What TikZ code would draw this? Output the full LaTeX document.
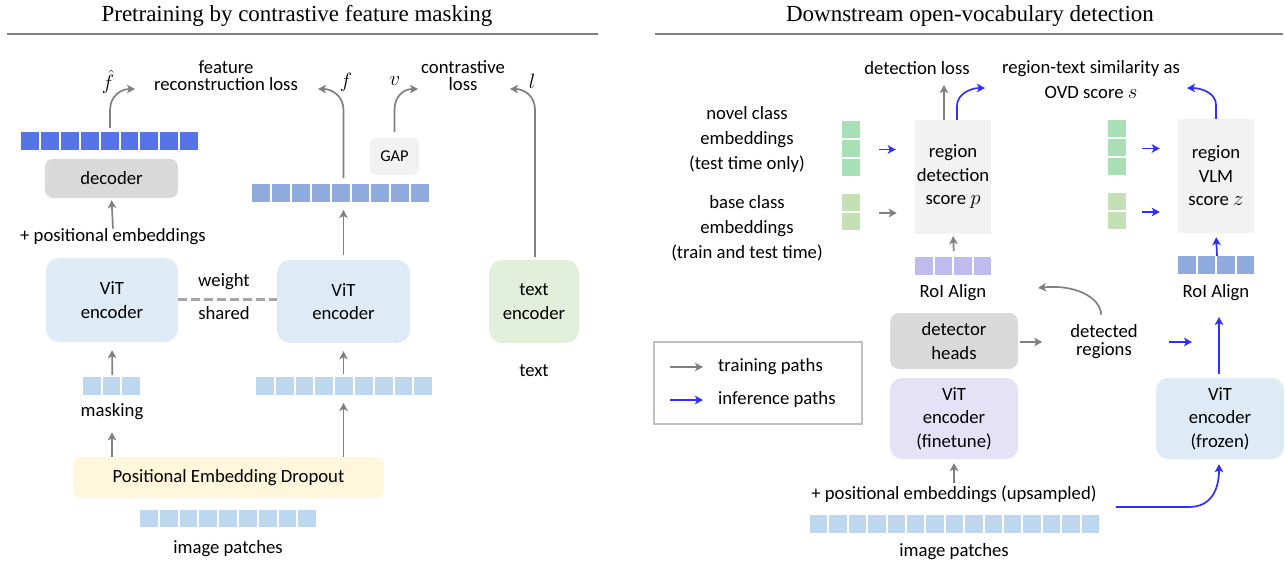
\documentclass[tikz,border=0pt]{standalone}
\usepackage{fontspec}
\setmainfont{Carlito}
\newfontfamily\titlefont{Liberation Serif}
\usetikzlibrary{arrows.meta,calc}

\definecolor{garr}{HTML}{808080}
\definecolor{barr}{HTML}{2F2FFF}
\definecolor{pdark}{HTML}{5574E6}
\definecolor{pmid}{HTML}{8FAADC}
\definecolor{plight}{HTML}{BDD7EE}
\definecolor{vitblue}{HTML}{DEEAF6}
\definecolor{txtgreen}{HTML}{E2EFDA}
\definecolor{pedyel}{HTML}{FFF7DC}
\definecolor{decgray}{HTML}{D9D9D9}
\definecolor{boxgray}{HTML}{F2F2F2}
\definecolor{ftlav}{HTML}{E5E1F7}
\definecolor{plav}{HTML}{C0BBEF}
\definecolor{gnovel}{HTML}{A9DFB5}
\definecolor{gbase}{HTML}{C5E0B4}
\definecolor{dashgray}{HTML}{A6A6A6}
\definecolor{rulegray}{HTML}{808080}
\definecolor{leggray}{HTML}{BFBFBF}

\newcommand{\fsz}{\fontsize{18.7}{23.5}\selectfont}
\newcommand{\fst}{\fontsize{18.7}{17}\selectfont}
\newcommand{\fsw}{\fontsize{18.7}{25}\selectfont}
\newcommand{\mv}[1]{{\fontsize{20.74}{23.5}\selectfont$#1$}}

% horizontal strip of patches: name, x-left, y-top, n, pitch, height, colour
\newcommand{\hstrip}[7]{%
  \node[inner sep=0pt, outer sep=0pt, minimum width={#4*#5pt}, minimum height=#6pt, anchor=north west] (#1) at (#2,#3) {};
  \foreach \k in {1,...,#4}{\fill[#7] ({#2+(\k-1)*#5},#3) rectangle ({#2+\k*#5-2},{#3+#6});}
}
% vertical strip of patches: name, x-left, y-top, n, pitch, width, colour
\newcommand{\vstrip}[7]{%
  \node[inner sep=0pt, outer sep=0pt, minimum width=#6pt, minimum height={#4*#5pt}, anchor=north west] (#1) at (#2,#3) {};
  \foreach \k in {1,...,#4}{\fill[#7] (#2,{#3+(\k-1)*#5}) rectangle ({#2+#6},{#3+\k*#5-2});}
}

\tikzset{
  lab/.style={inner sep=0pt, align=center, font=\fsz},
  blk/.style={inner sep=0pt, align=center, font=\fsz, rounded corners=13pt},
  garrow/.style={draw=garr, line width=1.7pt, -{Stealth[length=8pt,width=8.5pt,inset=2pt]}},
  barrow/.style={draw=barr, line width=1.7pt, -{Stealth[length=8pt,width=8.5pt,inset=2pt]}},
}

\begin{document}
\begin{tikzpicture}[x=1pt,y=-1pt]
\useasboundingbox (0,0) rectangle (1285,563);

% ---------- titles ----------
\node[lab, font=\titlefont\fontsize{23}{28}\selectfont, anchor=base] (titleL) at (297,21) {Pretraining by contrastive feature masking};
\node[lab, font=\titlefont\fontsize{23}{28}\selectfont, anchor=base] (titleR) at (970,21) {Downstream open-vocabulary detection};
\draw[rulegray, line width=1.3pt] (7,34) -- (598,34);
\draw[rulegray, line width=1.3pt] (655,34) -- (1283,34);

% ---------- left panel ----------
\hstrip{decout}{21}{132}{9}{19.9}{18}{pdark}
\hstrip{out2}{252}{184}{9}{19.9}{18}{pmid}
\hstrip{mask}{83}{377}{3}{19.5}{18}{plight}
\hstrip{strip2}{256}{377}{9}{19.8}{18}{plight}
\hstrip{imgL}{140}{510}{9}{19.8}{17}{plight}

\node[blk, fill=decgray, minimum width=133pt, minimum height=39pt, rounded corners=8pt] (dec) at (111.5,178.5) {decoder};
\node[blk, fill=boxgray, minimum width=49pt, minimum height=37pt, rounded corners=6pt, font=\fontsize{16.5}{20}\selectfont] (gap) at (394.5,156.5) {GAP};
\node[blk, fill=vitblue, minimum width=132pt, minimum height=84pt] (enc1) at (112,300) {ViT\\encoder};
\node[blk, fill=vitblue, minimum width=133pt, minimum height=83pt] (enc2) at (343.5,301.5) {ViT\\encoder};
\node[blk, fill=txtgreen, minimum width=90pt, minimum height=83pt] (tenc) at (534,301.5) {text\\encoder};
\node[blk, fill=pedyel, minimum width=311pt, minimum height=41pt, rounded corners=8pt] (ped) at (228.5,477.5) {Positional Embedding Dropout};

\node[lab] (fhat) at (108,82) {\mv{\hat{f}}};
\node[lab, font=\fst] (recloss) at (226,76) {feature\\reconstruction loss};
\node[lab] (flab) at (346,82) {\mv{f}};
\node[lab] (vlab) at (395,81) {\mv{v}};
\node[lab] (llab) at (532,81) {\mv{l}};
\node[lab, font=\fst] (conloss) at (463,76) {contrastive\\loss};
\node[lab] (posL) at (113,237) {+ positional embeddings};
\node[lab] (wlab) at (224,282) {weight};
\node[lab] (slab) at (224,313) {shared};
\node[lab] (masklab) at (112,412) {masking};
\node[lab] (textlab) at (534,371) {text};
\node[lab] (imglabL) at (228,549) {image patches};

\coordinate (fhattip) at (135,89);
\coordinate (ftip) at (318,89);
\coordinate (vtip) at (418,89);
\coordinate (ltip) at (510,89);

\draw[garrow] ($(decout.north)+(-0.5,-4)$) -- ++(0,-18) .. controls +(0,-14) and +(-14,0) .. (fhattip);
\draw[garrow] ($(enc2.north |- out2.north)+(0,-6)$) -- ++(0,-68) .. controls +(0,-14) and +(14,0) .. (ftip);
\draw[garrow] ($(gap.north)+(0,-6)$) -- ++(0,-22) .. controls +(0,-14) and +(-14,0) .. (vtip);
\draw[garrow] ($(tenc.north)+(1,-3)$) -- ++(0,-147) .. controls +(0,-14) and +(14,0) .. (ltip);

\draw[garrow, shorten >=2pt] (posL.north) -- (dec.south);
\draw[garrow, shorten <=5pt, shorten >=8pt] (enc2.north) -- (enc2.north |- out2.south);
\draw[garrow, shorten <=2pt, shorten >=8pt] (mask.north) -- (enc1.south);
\draw[garrow, shorten <=3pt, shorten >=8pt] (enc2.south |- strip2.north) -- (enc2.south);
\draw[garrow, shorten >=8pt] (enc2.south |- ped.north) -- (enc2.south |- strip2.south);
\draw[garrow, shorten >=12pt] (masklab.south |- ped.north) -- (masklab.south);
\draw[dashgray, line width=3pt, dash pattern=on 9pt off 4pt] (enc1.east) ++(0,-1) -- (enc2.west |- 0,299);

% ---------- right panel ----------
\node[lab] (detloss) at (917,68) {detection loss};
\node[lab, font=\fsw] (ovd) at (1091,79.5) {region-text similarity as\\OVD score \mv{s}};
\node[lab, font=\fsw] (novlab) at (747,140) {novel class\\embeddings\\(test time only)};
\node[lab, font=\fsw] (baselab) at (747,228) {base class\\embeddings\\(train and test time)};
\node[blk, fill=boxgray, rounded corners=0pt, minimum width=76pt, minimum height=114pt] (det) at (953,177) {region\\detection\\score \mv{p}};
\node[blk, fill=boxgray, rounded corners=0pt, minimum width=76pt, minimum height=114pt] (vlm) at (1216,176) {region\\VLM\\score \mv{z}};
\vstrip{novL}{842}{121}{3}{19}{18}{gnovel}
\vstrip{baseL}{842}{194}{2}{19}{18}{gbase}
\vstrip{novR}{1108}{120}{3}{19}{18}{gnovel}
\vstrip{baseR}{1108}{193}{2}{19}{18}{gbase}
\hstrip{roiL}{915}{257}{4}{19.5}{18}{plav}
\hstrip{roiR}{1178}{256}{4}{19.5}{18}{pmid}
\node[lab] (roiLlab) at (953,293) {RoI Align};
\node[lab] (roiRlab) at (1216,293) {RoI Align};
\node[blk, fill=decgray, minimum width=128pt, minimum height=56pt, rounded corners=9pt] (heads) at (954,341) {detector\\heads};
\node[lab, font=\fontsize{18.7}{18}\selectfont] (detreg) at (1104,342) {detected\\regions};
\node[blk, fill=ftlav, minimum width=128pt, minimum height=81pt, rounded corners=12pt] (vitft) at (954,418.5) {ViT\\encoder\\(finetune)};
\node[blk, fill=vitblue, minimum width=128pt, minimum height=81pt, rounded corners=12pt] (vitfz) at (1220,418.5) {ViT\\encoder\\(frozen)};
\node[lab] (posR) at (954,494) {+ positional embeddings (upsampled)};
\hstrip{imgR}{810}{515}{15}{19.4}{18}{plight}
\node[lab] (imglabR) at (954,552) {image patches};

% legend
\node[draw=leggray, line width=1.5pt, minimum width=208pt, minimum height=82pt, inner sep=0pt] (legend) at (758,383) {};
\node[lab, anchor=west] (trainlab) at (718,367) {training paths};
\node[lab, anchor=west] (inflab) at (718,400) {inference paths};
\draw[garrow] ($(trainlab.west)+(-48,0)$) -- ($(trainlab.west)+(-15,0)$);
\draw[barrow] ($(inflab.west)+(-48,0)$) -- ($(inflab.west)+(-15,0)$);

\coordinate (detlosstip) at (944,85);
\coordinate (ovdtipL) at (985,88);
\coordinate (ovdtipR) at (1187,88);
\coordinate (roitip) at (1038,288);
\coordinate (roiRtip) at (1219,317);

\draw[garrow] (det.north -| detlosstip) -- (detlosstip);
\draw[barrow] ($(det.north)+(4,0)$) -- ++(0,-14) .. controls +(0,-12) and +(-14,0) .. (ovdtipL);
\draw[barrow] (vlm.north) -- ++(0,-14) .. controls +(0,-12) and +(14,0) .. (ovdtipR);
\draw[barrow] ($(novL.east)+(19,0)$) -- ($(novL.east -| det.west)+(-19,0)$);
\draw[garrow] ($(baseL.east)+(19,0)$) -- ($(baseL.east -| det.west)+(-18,0)$);
\draw[barrow] ($(novR.east)+(16,0)$) -- ($(novR.east -| vlm.west)+(-18,0)$);
\draw[barrow] ($(baseR.east)+(16,0)$) -- ($(baseR.east -| vlm.west)+(-18,0)$);
\draw[garrow, shorten <=6pt, shorten >=2pt] (roiL.north) -- (det.south);
\draw[barrow, shorten >=4pt] (roiR.north) -- (vlm.south);
\draw[garrow] ($(heads.east)+(2,1)$) -- ++(22,0);
\draw[garrow] ($(detreg.north)+(-3,-10)$) .. controls +(0,-17) and +(37,-4) .. (roitip);
\draw[barrow] ($(vitfz.north |- heads.east)+(-51,1)$) -- ++(23,0);
\draw[barrow] ($(vitfz.north)+(-1,-4)$) -- (roiRtip);
\draw[garrow, shorten <=2pt, shorten >=4pt] (posR.north) -- (vitft.south);
\draw[barrow] ($(posR.east)+(19,13)$) -- ++(73,0) .. controls +(22,0) and +(0,26) .. ($(vitfz.south)+(-1,5)$);

\end{tikzpicture}
\end{document}
